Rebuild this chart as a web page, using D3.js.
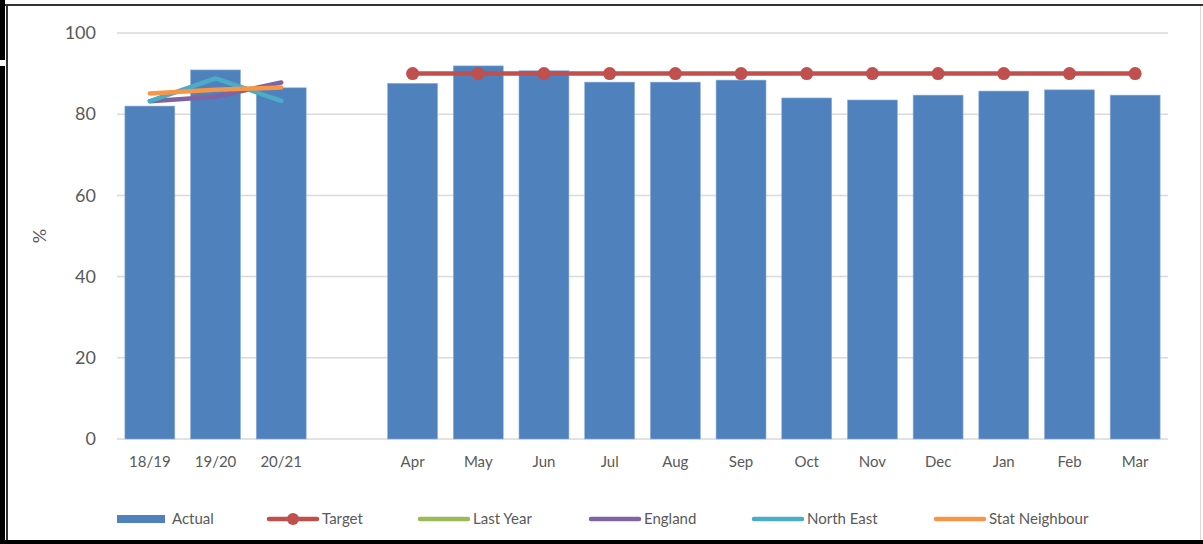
<!DOCTYPE html>
<html>
<head>
<meta charset="utf-8">
<script src="https://cdn.jsdelivr.net/npm/d3@7"></script>
<style>
  body { margin: 0; background: #fff; }
  text { font-family: Lato, "Open Sans", sans-serif; fill: #595959; }
</style>
</head>
<body>
<div id="chart"></div>
<script>

WIDTH = 1203;
HEIGHT = 544;

// chart data

var categories = ["18/19", "19/20", "20/21", "gap", "Apr", "May", "Jun", "Jul", "Aug", "Sep",
                  "Oct", "Nov", "Dec", "Jan", "Feb", "Mar"];
var tick_labels = ["18/19", "19/20", "20/21", "", "Apr", "May", "Jun", "Jul", "Aug", "Sep",
                   "Oct", "Nov", "Dec", "Jan", "Feb", "Mar"];

var actual = [82.0, 90.9, 86.5, null, 87.6, 91.9, 90.7, 87.9, 87.9, 88.4, 84.0, 83.5, 84.7, 85.7, 86.0, 84.7];
var target = [null, null, null, null, 90, 90, 90, 90, 90, 90, 90, 90, 90, 90, 90, 90];
var last_year = [null, null, null];
var england = [83.2, 84.3, 87.8];
var north_east = [83.2, 88.8, 83.3];
var stat_neighbour = [85.1, 86.0, 86.6];

var y_ticks = [0, 20, 40, 60, 80, 100];

var legend_names = ["Actual", "Target", "Last Year", "England", "North East", "Stat Neighbour"];
var legend_x = [117, 267, 418, 589, 752, 934];

var colours = {
    "Actual": "#4f81bd",
    "Target": "#c0504d",
    "Last Year": "#9bbb59",
    "England": "#8064a2",
    "North East": "#4bacc6",
    "Stat Neighbour": "#f79646"
};


var svg = d3.select("#chart").append("svg")
    .attr("width", WIDTH)
    .attr("height", HEIGHT);

// frame round the picture
svg.append("rect").attr("x", 0).attr("y", 0).attr("width", 5).attr("height", 60).attr("fill", "#000");
svg.append("rect").attr("x", 0).attr("y", 66).attr("width", 5).attr("height", HEIGHT - 66).attr("fill", "#000");
svg.append("rect").attr("x", 5).attr("y", 4).attr("width", WIDTH - 5).attr("height", 2).attr("fill", "#333");
svg.append("rect").attr("x", 6).attr("y", 4).attr("width", 2).attr("height", HEIGHT - 4).attr("fill", "#333");
svg.append("rect").attr("x", 0).attr("y", 540).attr("width", WIDTH).attr("height", 4).attr("fill", "#000");
svg.append("rect").attr("x", 1200).attr("y", 6).attr("width", 1).attr("height", 534).attr("fill", "#d9d9d9");

var x = d3.scaleBand()
    .domain(categories)
    .range([117, 1168])
    .paddingInner(0.24)
    .paddingOuter(0.12);

var y = d3.scaleLinear()
    .domain([0, 100])
    .range([439, 33]);

function cx(i) { return x(categories[i]) + x.bandwidth() / 2; }

// grid lines
svg.append("g")
    .selectAll("line")
    .data(y_ticks)
    .enter()
    .append("line")
    .attr("x1", 117)
    .attr("x2", 1168)
    .attr("y1", function (d) { return y(d); })
    .attr("y2", function (d) { return y(d); })
    .attr("stroke", "#d9d9d9")
    .attr("stroke-width", 1.5);

// y axis labels
var yAxis = svg.append("g")
    .attr("transform", "translate(96,0)")
    .call(d3.axisLeft(y).tickValues(y_ticks).tickSize(0).tickPadding(0));
yAxis.select(".domain").remove();
yAxis.selectAll("text")
    .style("font-size", "18px")
    .attr("fill", "#595959");

svg.append("text")
    .attr("transform", "translate(46,236) rotate(-90)")
    .attr("text-anchor", "middle")
    .style("font-size", "18px")
    .text("%");

// x axis labels
var xAxis = svg.append("g")
    .attr("transform", "translate(0,456)")
    .call(d3.axisBottom(x).tickSize(0).tickPadding(0)
          .tickFormat(function (d, i) { return tick_labels[i]; }));
xAxis.select(".domain").remove();
xAxis.selectAll("text")
    .style("font-size", "15px")
    .attr("fill", "#595959");

// bars
var bar_data = actual.map(function (v, i) { return { cat: categories[i], value: v }; })
    .filter(function (d) { return d.value != null; });

svg.append("g")
    .selectAll("rect")
    .data(bar_data)
    .enter()
    .append("rect")
    .attr("x", function (d) { return x(d.cat); })
    .attr("y", function (d) { return y(d.value); })
    .attr("width", x.bandwidth())
    .attr("height", function (d) { return y(0) - y(d.value); })
    .attr("fill", colours["Actual"])
    .attr("stroke", "#8fb0da")
    .attr("stroke-width", 0.6);

function series_line(values, colour) {
    var pts = [];
    values.forEach(function (v, i) { if (v != null) pts.push([cx(i), y(v)]); });
    svg.append("path")
        .attr("d", d3.line()(pts))
        .attr("fill", "none")
        .attr("stroke", colour)
        .attr("stroke-width", 4.5)
        .attr("stroke-linecap", "round")
        .attr("stroke-linejoin", "round");
    return pts;
}

series_line(last_year, colours["Last Year"]);
series_line(england, colours["England"]);
series_line(north_east, colours["North East"]);
series_line(stat_neighbour, colours["Stat Neighbour"]);
var tpts = series_line(target, colours["Target"]);

svg.append("g")
    .selectAll("circle")
    .data(tpts)
    .enter()
    .append("circle")
    .attr("cx", function (d) { return d[0]; })
    .attr("cy", function (d) { return d[1]; })
    .attr("r", 6.5)
    .attr("fill", colours["Target"]);

// legend
var legend = svg.append("g")
    .selectAll("g")
    .data(legend_names)
    .enter()
    .append("g")
    .attr("transform", function (d, i) { return "translate(" + legend_x[i] + ",519)"; });

legend.each(function (d) {
    var g = d3.select(this);
    if (d == "Actual") {
        g.append("rect").attr("x", 0).attr("y", -4).attr("width", 48).attr("height", 8)
            .attr("fill", colours[d]);
        g.append("text").attr("x", 55).attr("dy", "0.35em").style("font-size", "15px").text(d);
    } else {
        g.append("line").attr("x1", 2).attr("x2", 50).attr("y1", 0).attr("y2", 0)
            .attr("stroke", colours[d]).attr("stroke-width", 4.5).attr("stroke-linecap", "round");
        if (d == "Target") {
            g.append("circle").attr("cx", 26).attr("cy", 0).attr("r", 6).attr("fill", colours[d]);
        }
        g.append("text").attr("x", 55).attr("dy", "0.35em").style("font-size", "15px").text(d);
    }
});

</script>
</body>
</html>
